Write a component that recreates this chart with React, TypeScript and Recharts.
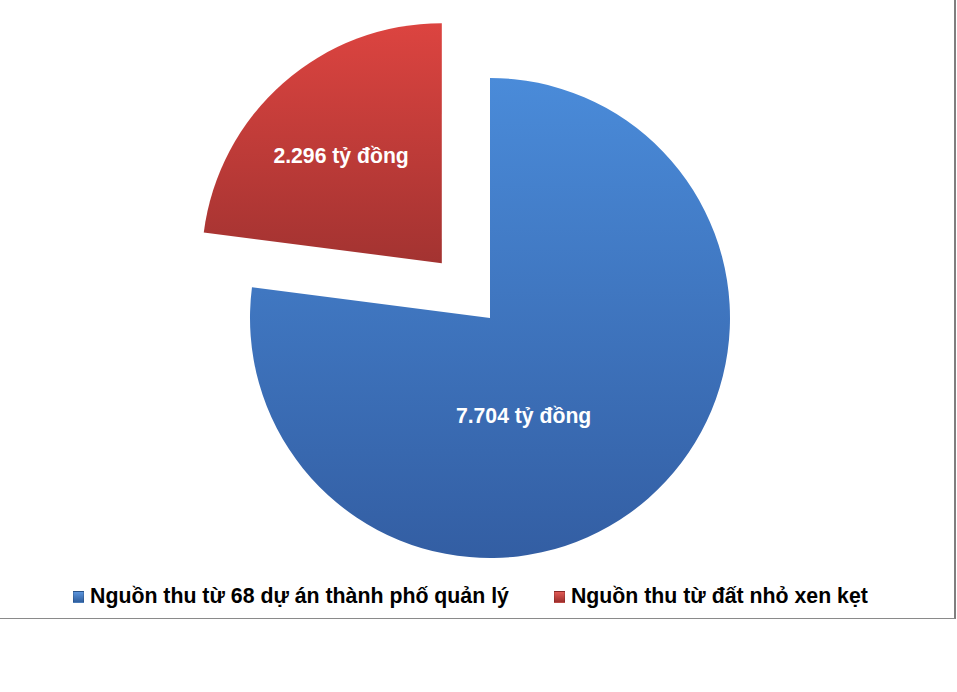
import React from "react";
import { PieChart, Pie, Cell, Legend } from "recharts";

const categories = [
  "Nguồn thu từ 68 dự án thành phố quản lý",
  "Nguồn thu từ đất nhỏ xen kẹt",
];
const values = [7704, 2296];
const valueLabels = ["7.704 tỷ đồng", "2.296 tỷ đồng"];

const data = categories.map((name, i) => ({ name, value: values[i], label: valueLabels[i] }));

const FONT = '"Liberation Sans", Arial, sans-serif';
const W = 954;
const H = 618;
const CX = 490;
const CY = 318;
const R = 240;
const EXPLODE = 73;
const START = 90;
const END = -270;

const total = values.reduce((a, b) => a + b, 0);
const redMid = START - (360 * (values[0] + values[1] / 2)) / total;
const rad = (redMid * Math.PI) / 180;
const CX2 = CX + EXPLODE * Math.cos(rad);
const CY2 = CY - EXPLODE * Math.sin(rad);

const fills = ["url(#gBlue)", "url(#gRed)"];
const legendFills = ["linear-gradient(#5b94dc,#2f5f9f)", "linear-gradient(#e05a55,#9e2e2c)"];

const blueLabel = (p: any) => {
  if (p.index !== 0) return null;
  const x = p.cx + p.outerRadius * 0.14;
  const y = p.cy + p.outerRadius * 0.405;
  return (
    <text x={x} y={y} fill="#ffffff" textAnchor="middle" dominantBaseline="central"
      style={{ fontFamily: FONT, fontWeight: 700, fontSize: 21.2 }}>
      {p.payload.label}
    </text>
  );
};

const redLabel = (p: any) => {
  if (p.index !== 1) return null;
  const a = (p.midAngle * Math.PI) / 180;
  const x = p.cx + p.outerRadius * 0.61 * Math.cos(a) - 4;
  const y = p.cy - p.outerRadius * 0.61 * Math.sin(a) + 2;
  return (
    <text x={x} y={y} fill="#ffffff" textAnchor="middle" dominantBaseline="central"
      style={{ fontFamily: FONT, fontWeight: 700, fontSize: 21.2 }}>
      {p.payload.label}
    </text>
  );
};

const renderLegend = () => (
  <div style={{ display: "flex", alignItems: "center", fontFamily: FONT, fontWeight: 700, fontSize: 21.3, color: "#000", whiteSpace: "nowrap" }}>
    {categories.map((c, i) => (
      <div key={c} style={{ display: "flex", alignItems: "center", marginRight: 45 }}>
        <span style={{ display: "inline-block", width: 9, height: 10, background: legendFills[i], marginRight: 6, border: "1px solid rgba(0,0,0,0.15)" }} />
        <span>{c}</span>
      </div>
    ))}
  </div>
);

export default function App() {
  return (
    <div style={{ position: "absolute", left: 0, top: 0, width: W, height: H, borderRight: "2px solid #7f7f7f", borderBottom: "1px solid #8a8a8a", background: "#fff" }}>
      <PieChart width={W} height={H} margin={{ top: 0, right: 0, bottom: 0, left: 0 }}>
        <defs>
          <linearGradient id="gBlue" x1="0" y1="0" x2="0" y2="1">
            <stop offset="0%" stopColor="#4a8bd9" />
            <stop offset="100%" stopColor="#335ea3" />
          </linearGradient>
          <linearGradient id="gRed" x1="0" y1="0" x2="0" y2="1">
            <stop offset="0%" stopColor="#dc4440" />
            <stop offset="100%" stopColor="#a33331" />
          </linearGradient>
        </defs>
        <Pie data={data} dataKey="value" nameKey="name" cx={CX} cy={CY} outerRadius={R}
          startAngle={START} endAngle={END} stroke="none" isAnimationActive={false}
          label={blueLabel} labelLine={false}>
          {data.map((d, i) => (
            <Cell key={d.name} fill={i === 0 ? fills[0] : "none"} />
          ))}
        </Pie>
        <Pie data={data} dataKey="value" nameKey="name" cx={CX2} cy={CY2} outerRadius={R}
          startAngle={START} endAngle={END} stroke="none" isAnimationActive={false}
          label={redLabel} labelLine={false}>
          {data.map((d, i) => (
            <Cell key={d.name} fill={i === 1 ? fills[1] : "none"} />
          ))}
        </Pie>
        <Legend content={renderLegend} wrapperStyle={{ position: "absolute", left: 73, top: 584, width: "auto" }} />
      </PieChart>
    </div>
  );
}
